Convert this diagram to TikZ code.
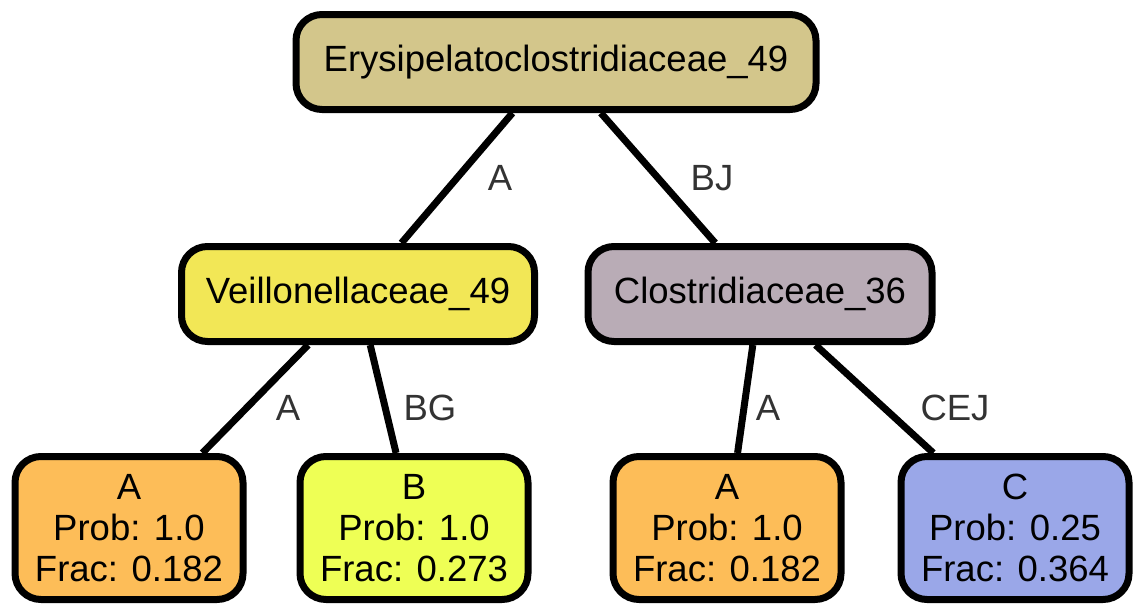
\documentclass[tikz,border=0pt]{standalone}
\usepackage{fontspec}
\setmainfont{Liberation Sans}
\usetikzlibrary{positioning}
\definecolor{rootTan}{HTML}{D3C68B}
\definecolor{veilYellow}{HTML}{F2E756}
\definecolor{closMauve}{HTML}{B9ACB6}
\definecolor{leafOrange}{HTML}{FDBD58}
\definecolor{leafLime}{HTML}{EEFF55}
\definecolor{leafBlue}{HTML}{9AA7E8}
\definecolor{labelGray}{HTML}{333333}

\begin{document}
\begin{tikzpicture}[x=1pt,y=-1pt,
every node/.style={font=\fontsize{36.5}{41}\selectfont},
taxon/.style={rectangle,rounded corners=26pt,draw=black,line width=7pt,inner sep=0pt,minimum height=95pt,align=center},
leaf/.style={taxon,minimum width=228pt,minimum height=143pt},
link/.style={line width=7pt},
lbl/.style={text=labelGray}]
\useasboundingbox (0,0) rectangle (1144,613);
\node[taxon,fill=rootTan,minimum width=520pt] (root) at (556,62) {Erysipelatoclostridiaceae\_49};
\node[taxon,fill=veilYellow,minimum width=353pt] (veil) at (358,294) {Veillonellaceae\_49};
\node[taxon,fill=closMauve,minimum width=344pt] (clos) at (760,294) {Clostridiaceae\_36};
\node[leaf,fill=leafOrange] (a1) at (129,528) {A\\Prob: 1.0\\Frac: 0.182};
\node[leaf,fill=leafLime] (b) at (414,528) {B\\Prob: 1.0\\Frac: 0.273};
\node[leaf,fill=leafOrange] (a2) at (727,528) {A\\Prob: 1.0\\Frac: 0.182};
\node[leaf,fill=leafBlue] (c) at (1015,528) {C\\Prob: 0.25\\Frac: 0.364};
\draw[link] (root) -- (veil);
\draw[link] (root) -- (clos);
\draw[link] (veil) -- (a1);
\draw[link] (veil) -- (b);
\draw[link] (clos) -- (a2);
\draw[link] (clos) -- (c);
\node[lbl] (lA) at (500,178) {A};
\node[lbl] (lBJ) at (712,178) {BJ};
\node[lbl] (lA2) at (288,408) {A};
\node[lbl] (lBG) at (430,408) {BG};
\node[lbl] (lA3) at (768,408) {A};
\node[lbl] (lCEJ) at (955,408) {CEJ};
\end{tikzpicture}
\end{document}
